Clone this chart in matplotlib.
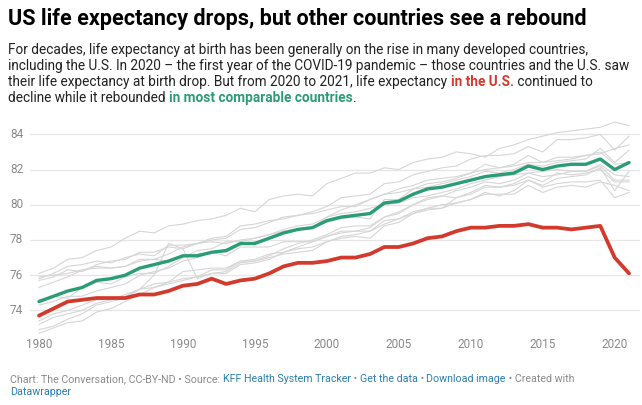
import matplotlib
matplotlib.use("Agg")
import matplotlib.pyplot as plt
import matplotlib.transforms as mtransforms

plt.rcParams['font.family'] = ['Roboto', 'DejaVu Sans']

years = list(range(1980, 2022))

us = [73.7, 74.1, 74.5, 74.6, 74.7, 74.7, 74.7, 74.9, 74.9, 75.1,
      75.4, 75.5, 75.8, 75.5, 75.7, 75.8, 76.1, 76.5, 76.7, 76.7,
      76.8, 77.0, 77.0, 77.2, 77.6, 77.6, 77.8, 78.1, 78.2, 78.5,
      78.7, 78.7, 78.8, 78.8, 78.9, 78.7, 78.7, 78.6, 78.7, 78.8,
      77.0, 76.1]

comparable_avg = [74.5, 74.8, 75.1, 75.3, 75.7, 75.8, 76.0, 76.4, 76.6, 76.8,
                  77.1, 77.1, 77.3, 77.4, 77.8, 77.8, 78.1, 78.4, 78.6, 78.7,
                  79.1, 79.3, 79.4, 79.5, 80.1, 80.2, 80.6, 80.9, 81.0, 81.2,
                  81.4, 81.6, 81.7, 81.8, 82.2, 82.0, 82.2, 82.3, 82.3, 82.6,
                  82.0, 82.4]

# other comparable countries (grey lines)
japan = [76.1, 76.4, 76.9, 77.0, 77.4, 77.6, 78.1, 78.5, 78.4, 78.8,
         78.9, 79.1, 79.2, 79.4, 79.8, 79.6, 80.3, 80.5, 80.6, 80.5,
         81.2, 81.5, 81.8, 81.8, 82.1, 82.0, 82.4, 82.6, 82.7, 83.0,
         82.9, 82.7, 83.2, 83.4, 83.7, 83.9, 84.1, 84.2, 84.3, 84.4,
         84.7, 84.5]
switzerland = [75.7, 75.9, 76.3, 76.2, 76.6, 76.8, 76.9, 77.3, 77.3, 77.6,
               77.5, 77.8, 78.0, 78.1, 78.6, 78.7, 79.0, 79.3, 79.4, 79.6,
               79.9, 80.4, 80.5, 80.6, 81.2, 81.3, 81.7, 81.9, 82.1, 82.2,
               82.6, 82.8, 82.8, 82.9, 83.3, 83.0, 83.7, 83.7, 83.8, 84.0,
               83.1, 83.9]
sweden = [75.8, 76.1, 76.5, 76.6, 76.8, 76.7, 77.0, 77.2, 77.1, 77.7,
          77.7, 77.8, 78.1, 78.2, 78.8, 78.9, 79.1, 79.2, 79.4, 79.5,
          79.7, 79.9, 79.9, 80.3, 80.6, 80.7, 80.9, 81.0, 81.2, 81.4,
          81.6, 81.9, 81.8, 82.0, 82.3, 82.2, 82.4, 82.5, 82.6, 83.2,
          82.4, 83.1]
netherlands = [75.9, 76.0, 76.1, 76.3, 76.4, 76.4, 76.5, 76.9, 76.9, 76.8,
               77.1, 77.2, 77.3, 77.1, 77.6, 77.6, 77.6, 77.9, 77.9, 77.9,
               78.2, 78.4, 78.5, 78.7, 79.3, 79.6, 80.0, 80.4, 80.5, 80.8,
               81.0, 81.3, 81.2, 81.4, 81.8, 81.6, 81.7, 81.9, 81.9, 82.2,
               81.4, 81.4]
canada = [75.3, 75.6, 75.9, 76.3, 76.5, 76.4, 76.5, 76.8, 76.9, 77.2,
          77.6, 77.8, 77.9, 77.8, 78.0, 78.1, 78.3, 78.5, 78.6, 78.7,
          79.3, 79.5, 79.6, 79.8, 80.0, 80.1, 80.4, 80.5, 80.7, 80.9,
          81.2, 81.4, 81.6, 81.7, 81.8, 81.9, 82.0, 81.9, 81.9, 82.3,
          81.7, 81.6]
australia = [74.6, 74.8, 74.7, 75.3, 75.6, 75.5, 75.9, 76.1, 76.1, 76.5,
             77.0, 77.4, 77.5, 77.9, 77.9, 78.1, 78.3, 78.6, 78.8, 78.9,
             79.3, 79.7, 80.0, 80.3, 80.6, 80.9, 81.1, 81.4, 81.5, 81.6,
             81.8, 82.0, 82.1, 82.2, 82.4, 82.4, 82.5, 82.6, 82.8, 82.9,
             83.2, 83.4]
france = [74.3, 74.5, 74.8, 74.8, 75.1, 75.3, 75.5, 76.0, 76.2, 76.4,
          76.8, 77.0, 77.3, 77.3, 77.7, 77.9, 78.1, 78.5, 78.6, 78.7,
          79.0, 79.2, 79.3, 79.2, 80.3, 80.3, 80.9, 81.2, 81.3, 81.5,
          81.8, 82.3, 82.1, 82.3, 82.8, 82.4, 82.7, 82.7, 82.8, 83.0,
          82.3, 82.4]
austria = [72.7, 73.0, 73.3, 73.4, 73.9, 74.1, 74.5, 74.9, 75.3, 75.6,
           75.8, 75.9, 76.1, 76.2, 76.7, 76.8, 77.1, 77.5, 77.8, 78.0,
           78.3, 78.7, 78.8, 78.8, 79.3, 79.5, 80.0, 80.3, 80.5, 80.4,
           80.7, 81.1, 81.0, 81.2, 81.6, 81.3, 81.8, 81.7, 81.8, 82.0,
           81.3, 81.3]
belgium = [73.4, 73.8, 74.0, 74.3, 74.6, 74.6, 74.9, 75.2, 75.5, 75.6,
           76.2, 76.3, 76.4, 76.4, 76.8, 76.9, 77.2, 77.3, 77.5, 77.6,
           77.9, 78.1, 78.2, 78.1, 78.8, 79.0, 79.5, 79.8, 79.8, 80.1,
           80.3, 80.7, 80.5, 80.8, 81.4, 81.1, 81.5, 81.6, 81.7, 82.1,
           80.8, 81.9]
germany = [72.9, 73.1, 73.5, 73.8, 74.3, 74.5, 74.7, 75.2, 76.0, 77.8,
           77.5, 75.8, 76.1, 76.1, 76.6, 76.7, 76.9, 77.3, 77.6, 77.9,
           78.2, 78.5, 78.5, 78.5, 79.1, 79.2, 79.6, 79.8, 80.0, 80.1,
           80.3, 80.6, 80.6, 80.6, 81.1, 80.7, 81.0, 81.1, 81.0, 81.3,
           81.1, 80.8]
uk = [73.2, 73.6, 73.8, 74.0, 74.4, 74.6, 74.8, 75.2, 75.3, 75.5,
      75.7, 75.9, 76.3, 76.3, 76.8, 76.8, 77.0, 77.2, 77.3, 77.4,
      77.9, 78.2, 78.3, 78.5, 78.9, 79.2, 79.5, 79.7, 79.8, 80.4,
      80.6, 81.0, 81.0, 81.1, 81.4, 81.0, 81.2, 81.3, 81.3, 81.4,
      80.4, 80.7]

others = [japan, switzerland, sweden, netherlands, canada, australia,
          france, austria, belgium, germany, uk]

y_ticks = [74, 76, 78, 80, 82, 84]
x_ticks = [1980, 1985, 1990, 1995, 2000, 2005, 2010, 2015, 2020]

RED = "#d13a2c"
GREEN = "#2a9d74"
GREY_TEXT = "#8a8a8a"
LINK = "#2a7fb0"

W, H = 642, 405
fig = plt.figure(figsize=(W / 100, H / 100), dpi=100)
fig.patch.set_facecolor("white")


def fx(px):
    return px / W


def fy(py):
    return 1 - py / H


ax = fig.add_axes([fx(30), fy(335), fx(640) - fx(30), fy(115) - fy(335)])
ax.set_xlim(1979.375, 2021.76)
ax.set_ylim(72.6, 85.1)
for s in ax.spines.values():
    s.set_visible(False)
ax.set_xticks([])
ax.set_yticks([])
for t in y_ticks:
    ax.axhline(t, color="#e6e6e6", lw=0.9, zorder=0)

for c in others:
    ax.plot(years, c, color="#d6d6d6", lw=0.8, zorder=1)
ax.plot(years, comparable_avg, color=GREEN, lw=2.4, zorder=3,
        solid_joinstyle="round", solid_capstyle="round")
ax.plot(years, us, color=RED, lw=2.7, zorder=4,
        solid_joinstyle="round", solid_capstyle="round")

ytrans = mtransforms.blended_transform_factory(fig.transFigure, ax.transData)
for t in y_ticks:
    fig.text(fx(10), t, str(t), transform=ytrans, ha="left", va="center",
             fontsize=8.5, color=GREY_TEXT)
xtrans = mtransforms.blended_transform_factory(ax.transData, fig.transFigure)
for t in x_ticks:
    fig.text(t, fy(345), str(t), transform=xtrans, ha="center", va="center",
             fontsize=8.5, color=GREY_TEXT)

# title
fig.text(fx(8), fy(25), "US life expectancy drops, but other countries see a rebound",
         fontsize=15.5, fontweight="bold", color="#000000", ha="left", va="baseline")

renderer = fig.canvas.get_renderer()


def runs(x0, ybase, pieces, size):
    x = x0
    for txt, color, weight in pieces:
        t = fig.text(fx(x), fy(ybase), txt, fontsize=size, color=color,
                     fontweight=weight, ha="left", va="baseline")
        bb = t.get_window_extent(renderer=renderer)
        x += bb.width


dark = "#222222"
sub = [
    [("For decades, life expectancy at birth has been generally on the rise in many developed countries,", dark, "normal")],
    [("including the U.S. In 2020 \u2013 the first year of the COVID-19 pandemic \u2013 those countries and the U.S. saw", dark, "normal")],
    [("their life expectancy at birth drop. But from 2020 to 2021, life expectancy ", dark, "normal"),
     ("in the U.S.", RED, "bold"), (" continued to", dark, "normal")],
    [("decline while it rebounded ", dark, "normal"),
     ("in most comparable countries", GREEN, "bold"), (".", dark, "normal")],
]
for i, line in enumerate(sub):
    runs(8, 54 + i * 16, line, 9.85)

footer = [
    [("Chart: The Conversation, CC-BY-ND \u2022 Source: ", GREY_TEXT, "normal"),
     ("KFF Health System Tracker", LINK, "normal"),
     (" \u2022 ", GREY_TEXT, "normal"),
     ("Get the data", LINK, "normal"),
     (" \u2022 ", GREY_TEXT, "normal"),
     ("Download image", LINK, "normal"),
     (" \u2022 Created with", GREY_TEXT, "normal")],
    [("Datawrapper", LINK, "normal")],
]
for i, line in enumerate(footer):
    runs(10, 382 + i * 13, line, 7.65)

fig.savefig("out.png", dpi=100, facecolor="white")
